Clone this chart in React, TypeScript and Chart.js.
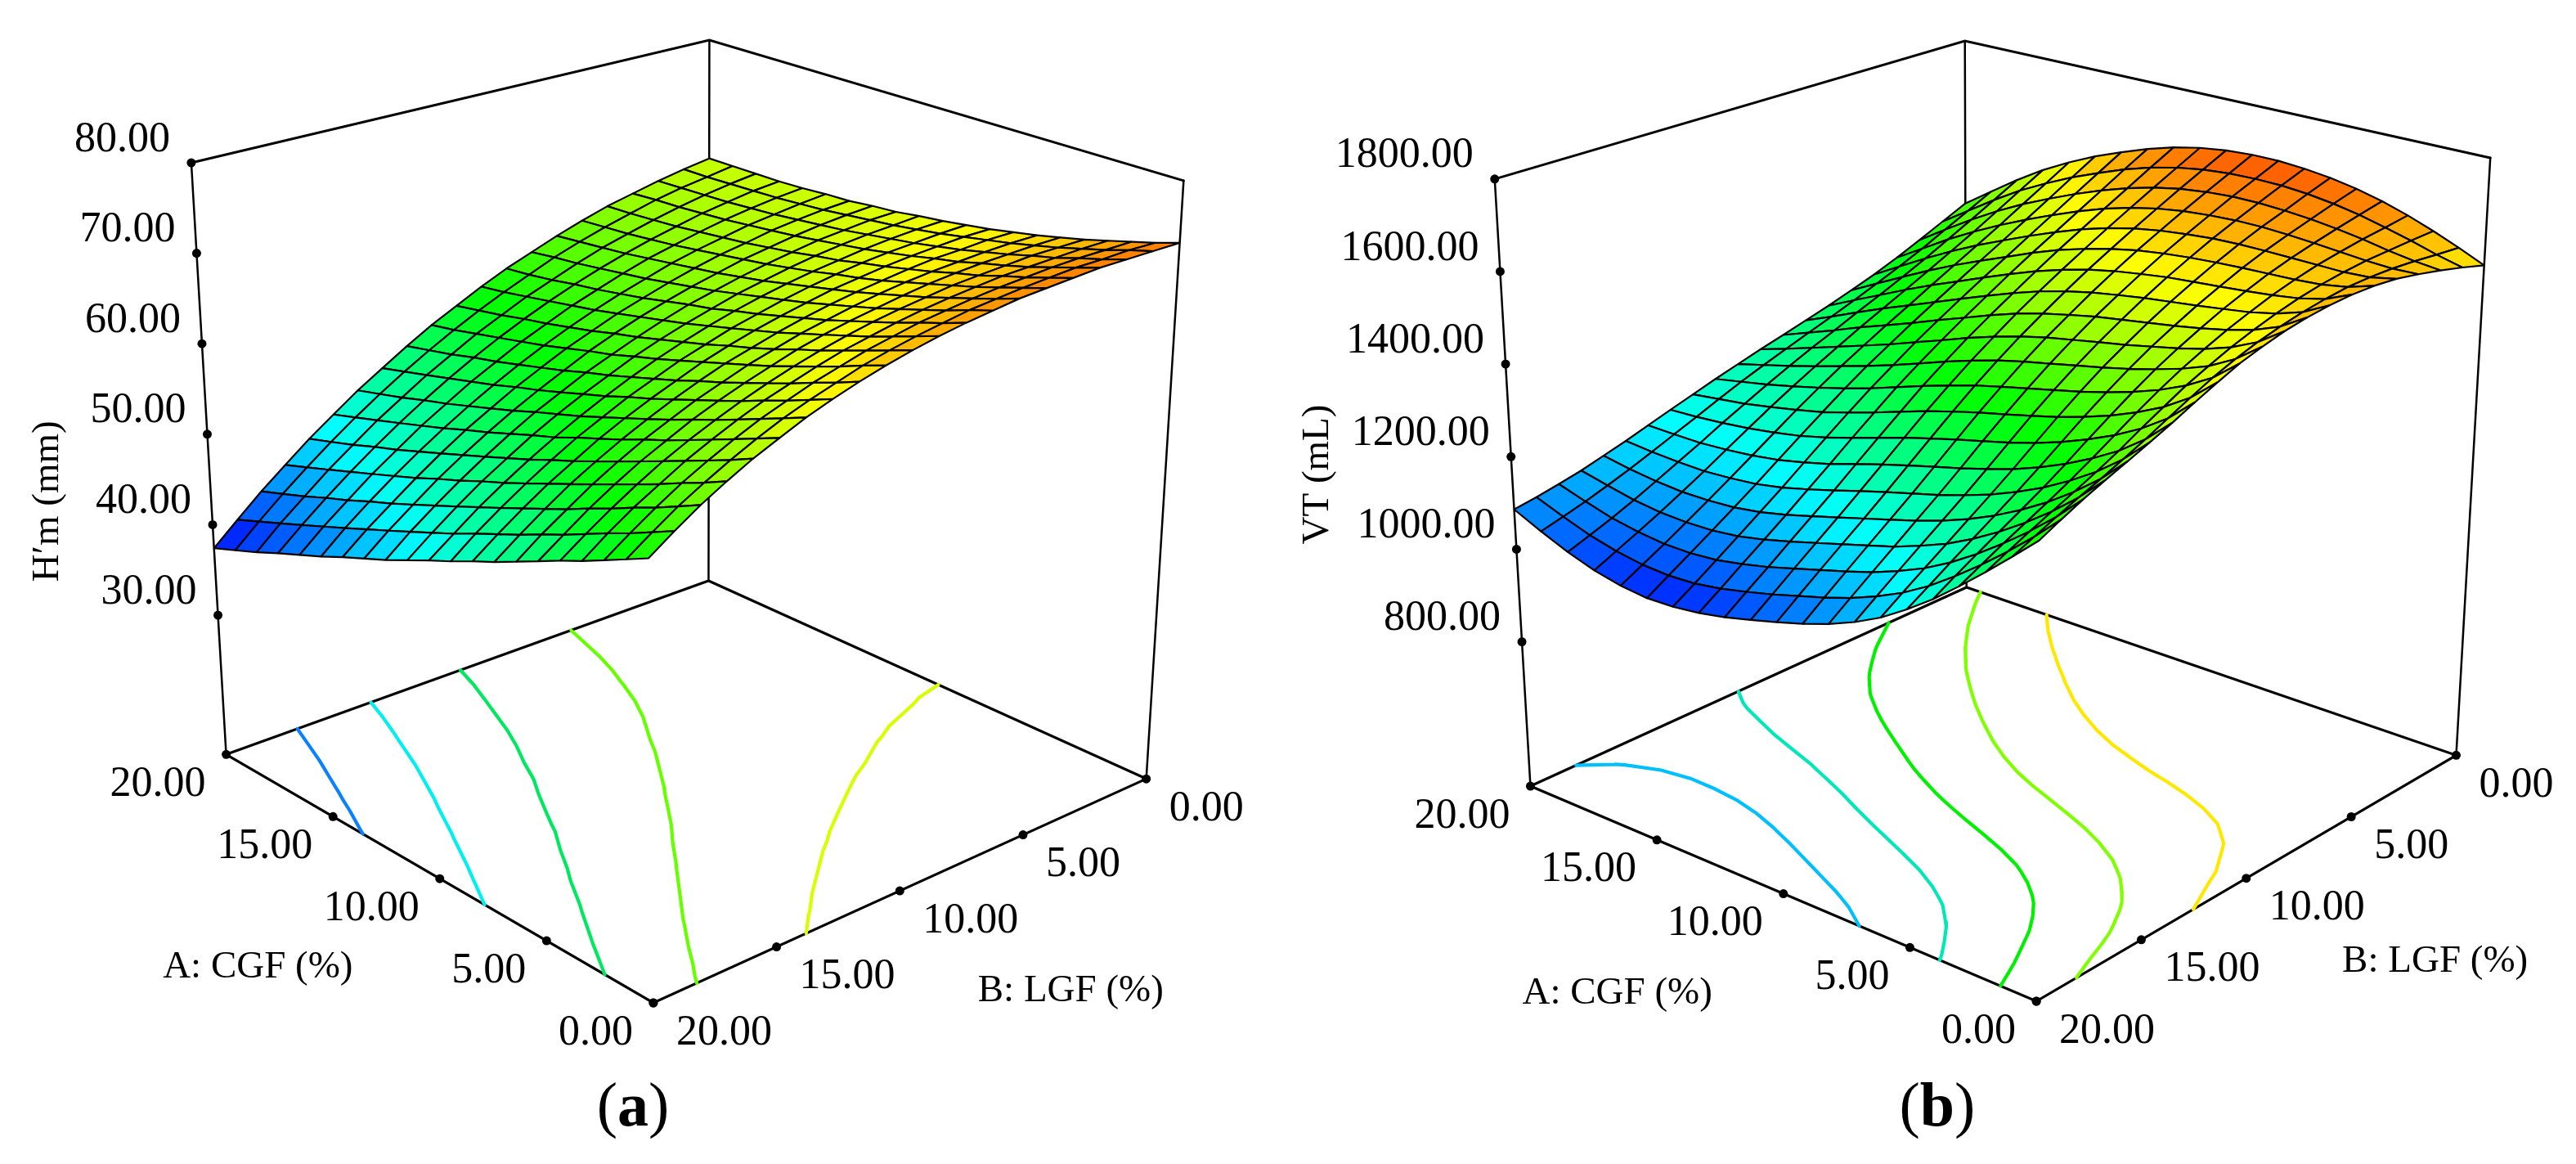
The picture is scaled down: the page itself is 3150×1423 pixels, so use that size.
import React, { useEffect, useRef } from "react";
import { Chart, registerables } from "chart.js";
Chart.register(...registerables);

const tickA = [0, 5, 10, 15, 20];
const tickB = [0, 5, 10, 15, 20];
const tickZa = [30, 40, 50, 60, 70, 80];
const tickZb = [800, 1000, 1200, 1400, 1600, 1800];
const levelsA = [44, 50, 56, 61.6, 67.5];
const levelsB = [1105, 1215, 1325, 1435, 1545];
const contourColorsA = ["#0a82ff", "#00f0f0", "#00e860", "#66ff00", "#d8ff00"];
const contourColorsB = ["#00bfff", "#00e8b8", "#00f000", "#80ff00", "#ffe800"];

// NOTE ON THE TWO SURFACE TABLES: these 441-value grids are not individually read cells.
// Smooth curves were fitted through those readings and blended across the interior in a
// scratch run (surface B also has one hand-tuned correction to move two contours), and the
// results were pasted here as literals. Interior values are therefore fitted estimates.
// The contour levels are also estimates, and the contour lines are traced from these tables.

// H'm (mm): one row per B = 0..20, one column per A = 0..20
const surfA: number[][] = [
  [73.2, 72.4, 71.7, 71.0, 70.3, 69.7, 69.1, 68.6, 68.1, 67.7, 67.3, 67.0, 66.6, 66.4, 66.1, 66.0, 65.8, 65.7, 65.7, 65.7, 65.7],
  [73.2, 72.5, 71.7, 71.0, 70.3, 69.7, 69.1, 68.6, 68.1, 67.6, 67.2, 66.8, 66.5, 66.2, 65.9, 65.7, 65.5, 65.4, 65.3, 65.2, 65.2],
  [73.2, 72.4, 71.7, 70.9, 70.3, 69.6, 69.0, 68.4, 67.9, 67.4, 67.0, 66.6, 66.2, 65.9, 65.6, 65.3, 65.1, 64.9, 64.8, 64.7, 64.6],
  [73.2, 72.4, 71.6, 70.8, 70.1, 69.5, 68.8, 68.3, 67.7, 67.2, 66.7, 66.3, 65.9, 65.5, 65.2, 64.9, 64.6, 64.4, 64.2, 64.1, 63.9],
  [73.0, 72.2, 71.4, 70.7, 69.9, 69.3, 68.6, 68.0, 67.4, 66.9, 66.3, 65.9, 65.4, 65.0, 64.6, 64.3, 64.0, 63.7, 63.5, 63.3, 63.2],
  [72.8, 72.0, 71.2, 70.4, 69.7, 69.0, 68.3, 67.6, 67.0, 66.5, 65.9, 65.4, 64.9, 64.5, 64.1, 63.7, 63.3, 63.0, 62.7, 62.5, 62.3],
  [72.6, 71.7, 70.9, 70.1, 69.3, 68.6, 67.9, 67.2, 66.6, 66.0, 65.4, 64.8, 64.3, 63.8, 63.4, 63.0, 62.6, 62.2, 61.9, 61.6, 61.3],
  [72.2, 71.4, 70.5, 69.7, 68.9, 68.1, 67.4, 66.7, 66.0, 65.4, 64.8, 64.2, 63.6, 63.1, 62.6, 62.1, 61.7, 61.3, 60.9, 60.6, 60.2],
  [71.8, 70.9, 70.1, 69.2, 68.4, 67.6, 66.8, 66.1, 65.4, 64.7, 64.1, 63.4, 62.9, 62.3, 61.7, 61.2, 60.7, 60.3, 59.8, 59.4, 59.1],
  [71.3, 70.4, 69.5, 68.6, 67.8, 67.0, 66.2, 65.4, 64.7, 64.0, 63.3, 62.6, 62.0, 61.4, 60.8, 60.2, 59.7, 59.2, 58.7, 58.2, 57.8],
  [70.7, 69.8, 68.9, 68.0, 67.1, 66.3, 65.4, 64.6, 63.9, 63.1, 62.4, 61.7, 61.0, 60.4, 59.7, 59.1, 58.5, 58.0, 57.4, 56.9, 56.4],
  [70.0, 69.1, 68.1, 67.2, 66.3, 65.4, 64.6, 63.8, 63.0, 62.2, 61.4, 60.7, 59.9, 59.3, 58.6, 57.9, 57.3, 56.7, 56.1, 55.5, 55.0],
  [69.2, 68.2, 67.3, 66.3, 65.4, 64.5, 63.6, 62.8, 61.9, 61.1, 60.3, 59.5, 58.8, 58.0, 57.3, 56.6, 55.9, 55.3, 54.6, 54.0, 53.4],
  [68.3, 67.3, 66.3, 65.4, 64.4, 63.5, 62.6, 61.7, 60.8, 60.0, 59.1, 58.3, 57.5, 56.7, 56.0, 55.2, 54.5, 53.8, 53.1, 52.4, 51.7],
  [67.3, 66.3, 65.3, 64.3, 63.3, 62.4, 61.4, 60.5, 59.6, 58.7, 57.8, 57.0, 56.2, 55.3, 54.5, 53.7, 52.9, 52.2, 51.4, 50.7, 50.0],
  [66.1, 65.1, 64.1, 63.1, 62.1, 61.1, 60.2, 59.2, 58.3, 57.4, 56.4, 55.6, 54.7, 53.8, 53.0, 52.1, 51.3, 50.5, 49.7, 48.9, 48.1],
  [64.9, 63.8, 62.8, 61.8, 60.8, 59.8, 58.8, 57.8, 56.8, 55.9, 54.9, 54.0, 53.1, 52.2, 51.3, 50.4, 49.5, 48.7, 47.8, 47.0, 46.2],
  [63.5, 62.4, 61.4, 60.3, 59.3, 58.3, 57.3, 56.3, 55.3, 54.3, 53.3, 52.4, 51.4, 50.5, 49.5, 48.6, 47.7, 46.8, 45.9, 45.0, 44.1],
  [62.0, 60.9, 59.8, 58.8, 57.7, 56.7, 55.6, 54.6, 53.6, 52.6, 51.6, 50.6, 49.6, 48.6, 47.6, 46.7, 45.7, 44.8, 43.8, 42.9, 42.0],
  [60.3, 59.2, 58.1, 57.1, 56.0, 54.9, 53.9, 52.8, 51.8, 50.8, 49.7, 48.7, 47.7, 46.7, 45.7, 44.7, 43.7, 42.7, 41.7, 40.7, 39.7],
  [58.5, 57.4, 56.3, 55.2, 54.2, 53.1, 52.0, 50.9, 49.9, 48.8, 47.8, 46.7, 45.6, 44.6, 43.6, 42.5, 41.5, 40.5, 39.4, 38.4, 37.4],
];

// VT (mL): one row per B = 0..20, one column per A = 0..20
const surfB: number[][] = [
  [1564, 1589, 1612, 1633, 1651, 1665, 1676, 1683, 1687, 1687, 1683, 1675, 1662, 1644, 1622, 1598, 1569, 1536, 1497, 1454, 1410],
  [1580, 1594, 1611, 1626, 1640, 1651, 1659, 1664, 1665, 1663, 1658, 1648, 1634, 1615, 1592, 1567, 1538, 1506, 1468, 1427, 1385],
  [1594, 1600, 1609, 1620, 1629, 1636, 1641, 1644, 1644, 1640, 1633, 1621, 1605, 1585, 1562, 1536, 1508, 1476, 1440, 1401, 1360],
  [1606, 1604, 1607, 1612, 1617, 1621, 1624, 1624, 1621, 1616, 1607, 1594, 1577, 1556, 1532, 1506, 1478, 1447, 1413, 1375, 1337],
  [1616, 1605, 1602, 1603, 1604, 1605, 1605, 1603, 1598, 1591, 1581, 1567, 1549, 1527, 1503, 1477, 1450, 1420, 1387, 1352, 1316],
  [1621, 1604, 1595, 1591, 1589, 1587, 1584, 1580, 1574, 1566, 1554, 1539, 1521, 1499, 1474, 1449, 1423, 1394, 1363, 1331, 1298],
  [1622, 1598, 1585, 1577, 1571, 1566, 1561, 1556, 1548, 1539, 1527, 1511, 1492, 1470, 1446, 1421, 1396, 1369, 1340, 1311, 1281],
  [1619, 1590, 1572, 1560, 1552, 1544, 1537, 1530, 1521, 1511, 1498, 1482, 1462, 1440, 1417, 1393, 1369, 1345, 1319, 1292, 1266],
  [1613, 1579, 1557, 1542, 1530, 1520, 1511, 1502, 1493, 1481, 1468, 1452, 1432, 1410, 1388, 1365, 1343, 1321, 1297, 1274, 1251],
  [1604, 1566, 1540, 1521, 1507, 1495, 1483, 1473, 1462, 1451, 1437, 1420, 1401, 1379, 1358, 1336, 1316, 1296, 1276, 1256, 1237],
  [1591, 1550, 1520, 1499, 1482, 1467, 1454, 1442, 1430, 1418, 1404, 1387, 1368, 1347, 1326, 1307, 1289, 1271, 1254, 1238, 1222],
  [1576, 1531, 1499, 1474, 1454, 1437, 1422, 1409, 1396, 1383, 1369, 1352, 1334, 1314, 1294, 1276, 1260, 1245, 1231, 1219, 1207],
  [1556, 1509, 1474, 1447, 1424, 1405, 1388, 1374, 1360, 1347, 1332, 1316, 1297, 1278, 1260, 1243, 1230, 1218, 1207, 1199, 1191],
  [1535, 1486, 1449, 1419, 1394, 1372, 1353, 1337, 1323, 1309, 1294, 1278, 1260, 1242, 1225, 1210, 1199, 1190, 1183, 1178, 1175],
  [1513, 1463, 1423, 1391, 1363, 1339, 1318, 1301, 1285, 1271, 1256, 1240, 1223, 1205, 1190, 1177, 1168, 1162, 1158, 1158, 1159],
  [1493, 1442, 1400, 1365, 1334, 1308, 1285, 1266, 1249, 1234, 1219, 1203, 1186, 1170, 1155, 1144, 1138, 1134, 1135, 1138, 1143],
  [1474, 1422, 1379, 1341, 1308, 1279, 1254, 1233, 1215, 1199, 1183, 1167, 1151, 1135, 1122, 1113, 1109, 1108, 1112, 1119, 1129],
  [1456, 1404, 1359, 1319, 1283, 1251, 1223, 1201, 1181, 1165, 1149, 1133, 1117, 1102, 1090, 1083, 1081, 1083, 1090, 1102, 1115],
  [1437, 1385, 1339, 1297, 1258, 1223, 1193, 1169, 1148, 1131, 1115, 1099, 1083, 1070, 1059, 1054, 1054, 1060, 1070, 1086, 1104],
  [1416, 1365, 1318, 1274, 1233, 1195, 1163, 1137, 1115, 1097, 1081, 1065, 1051, 1038, 1029, 1026, 1029, 1038, 1052, 1072, 1094],
  [1394, 1345, 1297, 1251, 1207, 1168, 1133, 1105, 1082, 1063, 1047, 1032, 1018, 1007, 1000, 998, 1004, 1016, 1035, 1059, 1086],
];

type Pt = { x: number; y: number };
type Cfg = {
  xMin: number; xMax: number; surf: number[][]; zLo: number; zHi: number; cLo: number; cHi: number;
  floor: Pt[]; top: Pt[]; // corners: front (A0,B20), left (A20,B20), back (A20,B0), right (A0,B0)
  zTicks: number[]; levels: number[]; colors: string[];
  zTitle: string; zTitlePos: Pt; aPos: Pt; bPos: Pt; cap: string; capPos: Pt;
};
const P = (x: number, y: number) => ({ x, y });
const panels: Cfg[] = [
  { xMin: 0, xMax: 1575, surf: surfA, zLo: 14.6, zHi: 80, cLo: 37.4, cHi: 78,
    floor: [P(799, 1230), P(273, 924), P(867, 710), P(1406, 954)],
    top: [P(790, 414), P(230, 195), P(868, 44), P(1452, 217)],
    zTicks: tickZa, levels: levelsA, colors: contourColorsA, zTitle: "H\u2032m (mm)", zTitlePos: P(54, 612),
    aPos: P(312, 1186), bPos: P(1313, 1216), cap: "a", capPos: P(774, 1361) },
  { xMin: 1575, xMax: 3150, surf: surfB, zLo: 488, zHi: 1800, cLo: 975, cHi: 1750,
    floor: [P(2491, 1228), P(1868, 963), P(2405, 718), P(3008, 925)],
    top: [P(2496, 406), P(1824, 215), P(2403, 45), P(3050, 189)],
    zTicks: tickZb, levels: levelsB, colors: contourColorsB, zTitle: "VT (mL)", zTitlePos: P(1606, 579),
    aPos: P(1975, 1219), bPos: P(2982, 1179), cap: "b", capPos: P(2369, 1361) },
];

function project(c: Cfg, A: number, B: number, z: number): Pt {
  const v = A / 20, u = B / 20, t = (z - c.zLo) / (c.zHi - c.zLo);
  const bil = (q: Pt[], k: "x" | "y") =>
    q[0][k] * (1 - v) * u + q[1][k] * v * u + q[2][k] * v * (1 - u) + q[3][k] * (1 - v) * (1 - u);
  return { x: bil(c.floor, "x") * (1 - t) + bil(c.top, "x") * t, y: bil(c.floor, "y") * (1 - t) + bil(c.top, "y") * t };
}
function jet(t0: number) {
  const t = Math.max(0, Math.min(1, t0));
  const s = (a: number, b: number) => Math.round(255 * Math.max(0, Math.min(1, (t - a) / (b - a))));
  const r = s(0.5, 0.75);
  const g = t < 0.25 ? s(0, 0.25) : t < 0.75 ? 255 : 255 - s(0.75, 1);
  const b = t < 0.25 ? 255 : 255 - s(0.25, 0.5);
  return `rgb(${r},${g},${b})`;
}
function contour(c: Cfg, lv: number) {
  const pts: any[] = []; const s = c.surf;
  for (let B = 0; B < 20; B++) for (let A = 0; A < 20; A++) {
    const cs: [number, number, number][] = [[A, B, s[B][A]], [A + 1, B, s[B][A + 1]], [A + 1, B + 1, s[B + 1][A + 1]], [A, B + 1, s[B + 1][A]]];
    const hit: Pt[] = [];
    for (let i = 0; i < 4; i++) {
      const p = cs[i], q = cs[(i + 1) % 4];
      if ((p[2] < lv) !== (q[2] < lv)) {
        const f = (lv - p[2]) / (q[2] - p[2]);
        hit.push(project(c, p[0] + f * (q[0] - p[0]), p[1] + f * (q[1] - p[1]), c.zLo));
      }
    }
    if (hit.length >= 2) pts.push(hit[0], hit[1], { x: NaN, y: NaN });
  }
  return pts;
}
const line = (data: Pt[], w: number, color: string) => ({ data, showLine: true, borderWidth: w, borderColor: color, pointRadius: 0, fill: false, tension: 0, borderCapStyle: "round" });
function buildDatasets(c: Cfg) {
  const out: any[] = [];
  const [fF, fL, fBk, fR] = c.floor; const [, tL, tBk, tR] = c.top;
  out.push(line([tL, tBk, tR], 3, "#000"), line([tBk, fBk], 2.5, "#000"), line([tL, fL], 2.5, "#000"), line([tR, fR], 2.5, "#000"));
  out.push(line([fL, fBk, fR, fF, fL], 3.2, "#000"));
  c.levels.forEach((l, i) => out.push(line(contour(c, l), 4.2, c.colors[i])));
  const s = c.surf;
  for (let B = 0; B < 20; B++) for (let A = 19; A >= 0; A--) {
    const zs = [s[B][A], s[B][A + 1], s[B + 1][A + 1], s[B + 1][A]];
    const pts = [project(c, A, B, zs[0]), project(c, A + 1, B, zs[1]), project(c, A + 1, B + 1, zs[2]), project(c, A, B + 1, zs[3]), project(c, A, B, zs[0])];
    const m = (zs[0] + zs[1] + zs[2] + zs[3]) / 4;
    out.push({ data: pts, showLine: true, fill: "shape", backgroundColor: jet((m - c.cLo) / (c.cHi - c.cLo)), borderColor: "#000", borderWidth: 2.2, pointRadius: 0, tension: 0, borderJoinStyle: "bevel" });
  }
  const dots: Pt[] = [];
  c.zTicks.forEach((z) => dots.push(project(c, 20, 20, z)));
  tickA.forEach((a) => dots.push(project(c, a, 20, c.zLo)));
  tickB.forEach((b) => dots.push(project(c, 0, b, c.zLo)));
  out.push({ data: dots, showLine: false, pointRadius: 5.5, pointBackgroundColor: "#000", pointBorderWidth: 0 });
  return out.reverse(); // Chart.js paints the first dataset last
}
const textPlugin = (c: Cfg) => ({
  id: "texts",
  afterDraw(chart: any) {
    const ctx = chart.ctx; const sx = chart.scales.x, sy = chart.scales.y;
    const px = (p: Pt) => [sx.getPixelForValue(p.x), sy.getPixelForValue(p.y)];
    ctx.save(); ctx.fillStyle = "#000"; ctx.textBaseline = "middle";
    ctx.font = "52px 'Liberation Serif'";
    ctx.textAlign = "right";
    c.zTicks.forEach((z) => { const [x, y] = px(project(c, 20, 20, z)); ctx.fillText(z.toFixed(2), x - 26, y - 28); });
    tickA.forEach((a) => { const [x, y] = px(project(c, a, 20, c.zLo)); ctx.fillText(a.toFixed(2), x - 25, y + 37); });
    ctx.textAlign = "left";
    tickB.forEach((b) => { const [x, y] = px(project(c, 0, b, c.zLo)); ctx.fillText(b.toFixed(2), x + 28, y + 37); });
    ctx.textAlign = "center"; ctx.font = "47px 'Liberation Serif'";
    const [ax, ay] = px(c.aPos); ctx.fillText("A: CGF (%)", ax, ay);
    const [bx, by] = px(c.bPos); ctx.fillText("B: LGF (%)", bx, by);
    const [zx, zy] = px(c.zTitlePos); ctx.save(); ctx.translate(zx, zy); ctx.rotate(-Math.PI / 2); ctx.fillText(c.zTitle, 0, 0); ctx.restore();
    const [cx, cy] = px(c.capPos);
    ctx.font = "76px 'Liberation Serif'"; const wp = ctx.measureText("(").width;
    ctx.font = "bold 76px 'Liberation Serif'"; const wc = ctx.measureText(c.cap).width;
    ctx.textAlign = "left"; const x0 = cx - wp - wc / 2;
    ctx.font = "76px 'Liberation Serif'"; ctx.fillText("(", x0, cy); ctx.fillText(")", x0 + wp + wc, cy);
    ctx.font = "bold 76px 'Liberation Serif'"; ctx.fillText(c.cap, x0 + wp, cy);
    ctx.restore();
  },
});
function Panel({ c }: { c: Cfg }) {
  const ref = useRef<HTMLCanvasElement>(null);
  useEffect(() => {
    const chart = new Chart(ref.current!, {
      type: "scatter",
      data: { datasets: buildDatasets(c) },
      options: { animation: false, responsive: false, devicePixelRatio: 1, layout: { padding: 0 },
        plugins: { legend: { display: false }, tooltip: { enabled: false } }, events: [],
        scales: { x: { type: "linear", display: false, min: c.xMin, max: c.xMax }, y: { type: "linear", display: false, min: 0, max: 1423, reverse: true } } },
      plugins: [textPlugin(c)],
    } as any);
    return () => chart.destroy();
  }, []);
  return <canvas ref={ref} width={c.xMax - c.xMin} height={1423} style={{ position: "absolute", left: c.xMin, top: 0, width: c.xMax - c.xMin, height: 1423 }} />;
}
export default function App() {
  return <div style={{ position: "absolute", left: 0, top: 0, width: 3150, height: 1423, background: "#fff", overflow: "hidden" }}>{panels.map((c) => <Panel key={c.cap} c={c} />)}</div>;
}
